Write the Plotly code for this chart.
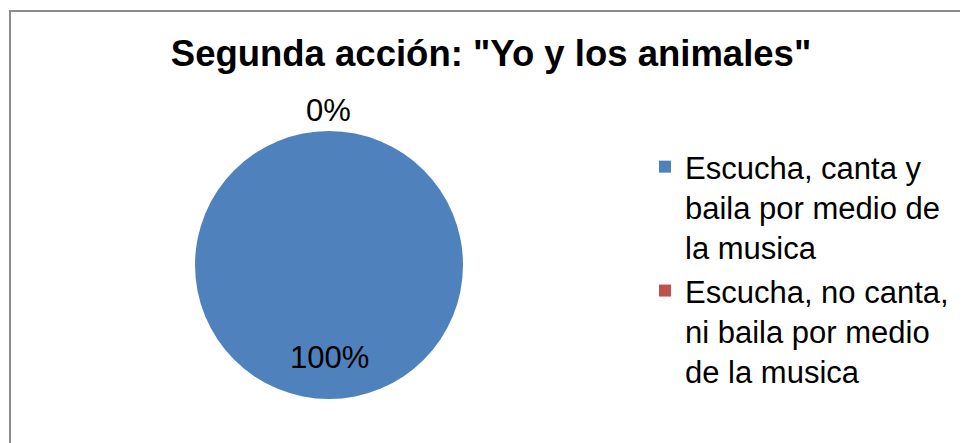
import math
import plotly.graph_objects as go

categories = ["Escucha, canta y<br>baila por medio de<br>la musica",
              "Escucha, no canta,<br>ni baila por medio<br>de la musica"]
values = [100, 0]
colors = ["#4F81BD", "#C0504D"]
title_text = 'Segunda acción: "Yo y los animales"'

W, H = 968, 443
OFF = 8  # page body margin
cx, cy, r = 329 - OFF, 265 - OFF, 134

fig = go.Figure(go.Pie(
    labels=categories,
    values=values,
    marker=dict(colors=colors),
    sort=False,
    direction="clockwise",
    rotation=0,
    textinfo="none",
    domain=dict(x=[(cx - r) / W, (cx + r) / W], y=[1 - (cy + r) / H, 1 - (cy - r) / H]),
    showlegend=True,
    hoverinfo="label+percent",
))

# percentage labels placed like the original (outside top for 0%, lower inside for 100%)
total = sum(values)
annotations = []
start = 0.0
for v in values:
    frac = v / total
    mid = start + frac / 2  # fraction of full turn, clockwise from 12 o'clock
    start += frac
    ang = mid * 2 * math.pi
    rad = r + 21 if frac < 0.05 else 0.69 * r
    px = cx + rad * math.sin(ang)
    py = cy - rad * math.cos(ang)
    annotations.append(dict(text=f"{frac:.0%}", x=px / W, y=1 - py / H,
                            xref="paper", yref="paper", showarrow=False,
                            xanchor="center", yanchor="middle",
                            font=dict(size=31, family="Liberation Sans, Arial", color="#000000")))

fig.update_layout(
    width=W, height=H,
    margin=dict(l=0, r=0, t=0, b=0),
    paper_bgcolor="white",
    font=dict(family="Liberation Sans, Arial", color="#000000"),
    title=dict(text="<b>" + title_text + "</b>", x=(491 - OFF) / W, xanchor="center",
               y=1 - (53 - OFF) / H, yanchor="middle", yref="container",
               font=dict(size=36.5, family="Liberation Sans, Arial", color="#000000")),
    legend=dict(x=(637 - OFF + 8) / W, xanchor="left", y=1 - 132 / H, yanchor="top",
                font=dict(size=31, family="Liberation Sans, Arial", color="#000000"),
                valign="top", itemwidth=30, tracegroupgap=0),
    annotations=annotations,
    shapes=[dict(type="rect", xref="paper", yref="paper",
                 x0=(10 - OFF) / W, x1=1.02, y0=-0.05, y1=1 - (11 - OFF) / H,
                 line=dict(color="#8C8C8C", width=2), fillcolor="rgba(0,0,0,0)")],
)

fig.write_html("out.html")
